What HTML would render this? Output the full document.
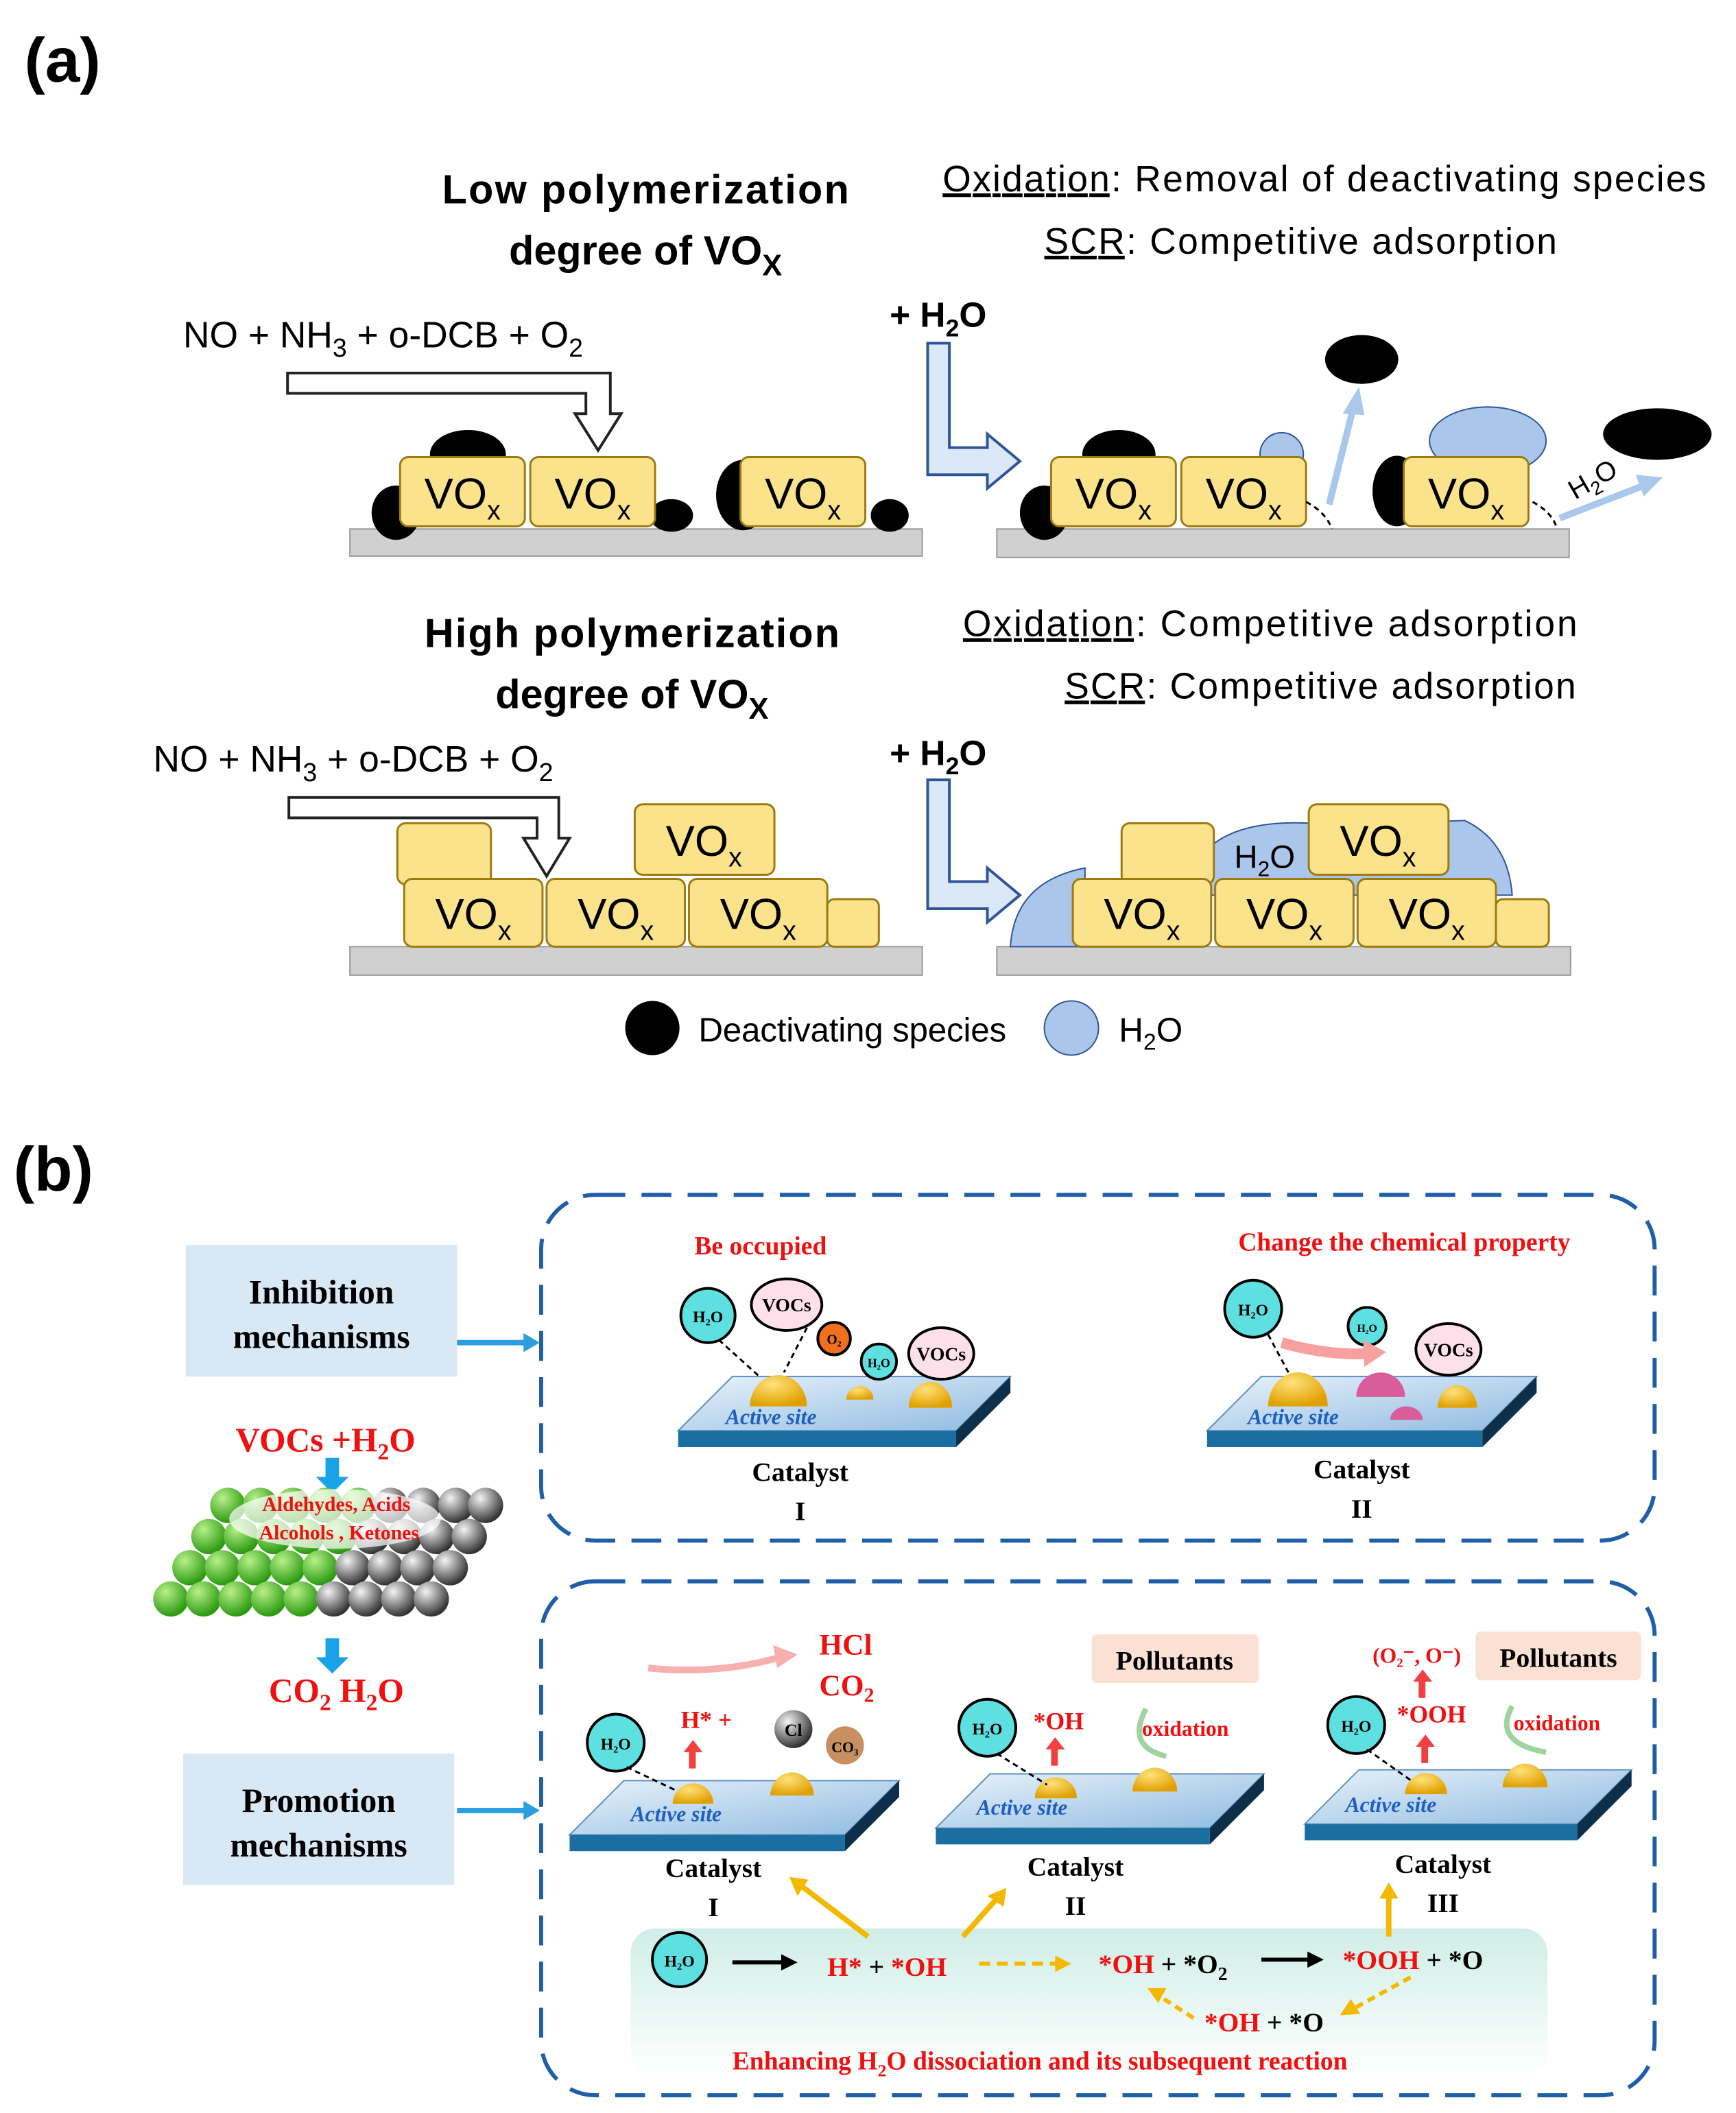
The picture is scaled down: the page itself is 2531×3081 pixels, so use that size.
<!DOCTYPE html>
<html><head><meta charset="utf-8"><style>
html,body{margin:0;padding:0;background:#fff;}
svg{display:block;}
.s{font-family:"Liberation Sans",sans-serif;}
.r{font-family:"Liberation Serif",serif;font-weight:bold;}
</style></head><body>
<svg width="2531" height="3081" viewBox="0 0 1280 1558" xmlns="http://www.w3.org/2000/svg">
<defs>
<linearGradient id="plate" x1="0" y1="0" x2="1" y2="1"><stop offset="0" stop-color="#e8f2fb"/><stop offset="1" stop-color="#8fbbe0"/></linearGradient>
<radialGradient id="gold" cx="0.4" cy="0.3" r="0.7"><stop offset="0" stop-color="#ffe27a"/><stop offset="1" stop-color="#e0a000"/></radialGradient>
<linearGradient id="green" x1="0" y1="0" x2="0" y2="1"><stop offset="0" stop-color="#cfeee6"/><stop offset="1" stop-color="#ffffff"/></linearGradient>
<radialGradient id="gs" cx="0.35" cy="0.3" r="0.7"><stop offset="0" stop-color="#b8f08a"/><stop offset="1" stop-color="#2a9a10"/></radialGradient>
<radialGradient id="ks" cx="0.35" cy="0.3" r="0.7"><stop offset="0" stop-color="#f4f4f4"/><stop offset="1" stop-color="#333"/></radialGradient>
<g id="ybox"><rect x="0" y="0" width="92" height="51" rx="6" fill="#fbe38c" stroke="#9c7a10" stroke-width="1.5"/></g>
<circle id="G" r="13" fill="url(#gs)"/>
<circle id="K" r="13" fill="url(#ks)"/>
</defs>

<!-- (a) -->
<text x="18" y="60" class="s" font-size="46" font-weight="bold">(a)</text>
<g class="s" text-anchor="middle" font-weight="bold" font-size="30">
<text x="476" y="150" textLength="300">Low polymerization</text>
<text x="476" y="195">degree of VO<tspan font-size="22" dy="8">X</tspan></text>
<text x="466" y="477" textLength="306">High polymerization</text>
<text x="466" y="522">degree of VO<tspan font-size="22" dy="8">X</tspan></text>
</g>
<g class="s" font-size="27">
<text x="695" y="141" textLength="563"><tspan text-decoration="underline">Oxidation</tspan>: Removal of deactivating species</text>
<text x="770" y="187" textLength="378"><tspan text-decoration="underline">SCR</tspan>: Competitive adsorption</text>
<text x="710" y="469" textLength="453"><tspan text-decoration="underline">Oxidation</tspan>: Competitive adsorption</text>
<text x="785" y="515" textLength="377"><tspan text-decoration="underline">SCR</tspan>: Competitive adsorption</text>
<text x="135" y="256">NO + NH<tspan font-size="19" dy="7">3</tspan><tspan dy="-7"> + o-DCB + O</tspan><tspan font-size="19" dy="7">2</tspan></text>
<text x="113" y="569">NO + NH<tspan font-size="19" dy="7">3</tspan><tspan dy="-7"> + o-DCB + O</tspan><tspan font-size="19" dy="7">2</tspan></text>
</g>
<g class="s" font-size="26" font-weight="bold">
<text x="656" y="241">+ H<tspan font-size="18" dy="7">2</tspan><tspan dy="-7">O</tspan></text>
<text x="656" y="564">+ H<tspan font-size="18" dy="7">2</tspan><tspan dy="-7">O</tspan></text>
</g>
<path d="M212,275 H450 V305 H458 L441,332 L424,305 H432 V290 H212 Z" fill="#fff" stroke="#222" stroke-width="2"/>
<path d="M213,588 H412 V618 H420 L403,646 L386,618 H396 V603 H213 Z" fill="#fff" stroke="#222" stroke-width="2"/>
<path d="M684,253 H700 V330 H728 V320 L752,340 L728,360 V350 H684 Z" fill="#dbe8f7" stroke="#2f5597" stroke-width="2"/>
<path d="M684,575 H700 V650 H728 V640 L752,660 L728,680 V670 H684 Z" fill="#dbe8f7" stroke="#2f5597" stroke-width="2"/>
<rect x="258" y="390" width="422" height="20" fill="#d0d0d0" stroke="#999"/>
<rect x="735" y="390" width="422" height="21" fill="#d0d0d0" stroke="#999"/>
<rect x="258" y="698" width="422" height="21" fill="#d0d0d0" stroke="#999"/>
<rect x="735" y="698" width="423" height="21" fill="#d0d0d0" stroke="#999"/>
<ellipse cx="345" cy="335" rx="28" ry="18"/>
<ellipse cx="292" cy="378" rx="18" ry="20"/>
<ellipse cx="495" cy="380" rx="16" ry="12"/>
<ellipse cx="548" cy="365" rx="20" ry="26"/>
<ellipse cx="656" cy="380" rx="14" ry="12"/>
<use href="#ybox" x="295" y="337"/><use href="#ybox" x="391" y="337"/><use href="#ybox" x="546" y="337"/>
<ellipse cx="825" cy="335" rx="27" ry="18"/>
<ellipse cx="770" cy="378" rx="18" ry="20"/>
<ellipse cx="1004" cy="265" rx="27" ry="18"/>
<ellipse cx="1222" cy="320" rx="40" ry="19"/>
<ellipse cx="945" cy="335" rx="16" ry="16" fill="#aac6ea" stroke="#2f5597"/>
<ellipse cx="1097" cy="325" rx="43" ry="25" fill="#aac6ea" stroke="#2f5597"/>
<ellipse cx="1030" cy="362" rx="18" ry="26"/>
<use href="#ybox" x="775" y="337"/><use href="#ybox" x="871" y="337"/><use href="#ybox" x="1035" y="337"/>
<path d="M963,370 Q978,378 982,390 M1130,370 Q1145,378 1148,390" fill="none" stroke="#000" stroke-dasharray="4,3" stroke-width="1.5"/>
<line x1="980" y1="372" x2="998" y2="300" stroke="#a9c8ec" stroke-width="5"/>
<polygon points="1002,285 990,305 1006,306" fill="#a9c8ec"/>
<line x1="1150" y1="382" x2="1212" y2="358" stroke="#a9c8ec" stroke-width="5"/>
<polygon points="1226,352 1206,350 1212,366" fill="#a9c8ec"/>
<text x="1155" y="365" class="s" font-size="20" transform="rotate(-30 1165 355)">H<tspan font-size="14" dy="5">2</tspan><tspan dy="-5">O</tspan></text>
<rect x="293" y="607" width="69" height="45" rx="6" fill="#fbe38c" stroke="#9c7a10" stroke-width="1.5"/>
<rect x="468" y="593" width="103" height="52" rx="6" fill="#fbe38c" stroke="#9c7a10" stroke-width="1.5"/>
<rect x="298" y="648" width="102" height="50" rx="6" fill="#fbe38c" stroke="#9c7a10" stroke-width="1.5"/>
<rect x="403" y="648" width="102" height="50" rx="6" fill="#fbe38c" stroke="#9c7a10" stroke-width="1.5"/>
<rect x="508" y="648" width="102" height="50" rx="6" fill="#fbe38c" stroke="#9c7a10" stroke-width="1.5"/>
<rect x="610" y="663" width="38" height="35" rx="5" fill="#fbe38c" stroke="#9c7a10" stroke-width="1.5"/>
<path d="M745,698 Q748,650 800,640 V698 Z" fill="#aac6ea" stroke="#2f5597"/>
<path d="M880,640 Q900,600 980,608 L1080,605 Q1112,620 1115,660 H880 Z" fill="#aac6ea" stroke="#2f5597"/>
<rect x="827" y="607" width="68" height="45" rx="6" fill="#fbe38c" stroke="#9c7a10" stroke-width="1.5"/>
<rect x="965" y="593" width="103" height="52" rx="6" fill="#fbe38c" stroke="#9c7a10" stroke-width="1.5"/>
<rect x="791" y="648" width="102" height="50" rx="6" fill="#fbe38c" stroke="#9c7a10" stroke-width="1.5"/>
<rect x="896" y="648" width="102" height="50" rx="6" fill="#fbe38c" stroke="#9c7a10" stroke-width="1.5"/>
<rect x="1001" y="648" width="102" height="50" rx="6" fill="#fbe38c" stroke="#9c7a10" stroke-width="1.5"/>
<rect x="1103" y="663" width="39" height="35" rx="5" fill="#fbe38c" stroke="#9c7a10" stroke-width="1.5"/>
<text x="910" y="640" class="s" font-size="24">H<tspan font-size="16" dy="6">2</tspan><tspan dy="-6">O</tspan></text>
<g class="s" font-size="32" text-anchor="middle">
<text x="341" y="375">VO<tspan font-size="20" dy="8">x</tspan></text>
<text x="437" y="375">VO<tspan font-size="20" dy="8">x</tspan></text>
<text x="592" y="375">VO<tspan font-size="20" dy="8">x</tspan></text>
<text x="821" y="375">VO<tspan font-size="20" dy="8">x</tspan></text>
<text x="917" y="375">VO<tspan font-size="20" dy="8">x</tspan></text>
<text x="1081" y="375">VO<tspan font-size="20" dy="8">x</tspan></text>
<text x="519" y="631">VO<tspan font-size="20" dy="8">x</tspan></text>
<text x="349" y="685">VO<tspan font-size="20" dy="8">x</tspan></text>
<text x="454" y="685">VO<tspan font-size="20" dy="8">x</tspan></text>
<text x="559" y="685">VO<tspan font-size="20" dy="8">x</tspan></text>
<text x="1016" y="631">VO<tspan font-size="20" dy="8">x</tspan></text>
<text x="842" y="685">VO<tspan font-size="20" dy="8">x</tspan></text>
<text x="947" y="685">VO<tspan font-size="20" dy="8">x</tspan></text>
<text x="1052" y="685">VO<tspan font-size="20" dy="8">x</tspan></text>
</g>
<circle cx="481" cy="758" r="20"/>
<text x="515" y="768" class="s" font-size="25" textLength="227">Deactivating species</text>
<circle cx="790" cy="758" r="20" fill="#aac6ea" stroke="#2f5597"/>
<text x="825" y="768" class="s" font-size="25">H<tspan font-size="17" dy="6">2</tspan><tspan dy="-6">O</tspan></text>

<!-- (b) -->
<text x="10" y="878" class="s" font-size="46" font-weight="bold">(b)</text>
<rect x="399" y="881" width="821" height="255" rx="40" fill="none" stroke="#1f5fa8" stroke-width="3" stroke-dasharray="22,12"/>
<rect x="399" y="1166" width="821" height="379" rx="40" fill="none" stroke="#1f5fa8" stroke-width="3" stroke-dasharray="22,12"/>
<rect x="137" y="918" width="200" height="97" fill="#d9e8f5"/>
<rect x="135" y="1293" width="200" height="97" fill="#d9e8f5"/>
<g class="r" font-size="25" text-anchor="middle">
<text x="237" y="961">Inhibition</text><text x="237" y="994">mechanisms</text>
<text x="235" y="1336">Promotion</text><text x="235" y="1369">mechanisms</text>
</g>
<line x1="337" y1="990" x2="388" y2="990" stroke="#2a9ee0" stroke-width="4"/><polygon points="398,990 386,983 386,997" fill="#2a9ee0"/>
<line x1="337" y1="1335" x2="388" y2="1335" stroke="#2a9ee0" stroke-width="4"/><polygon points="398,1335 386,1328 386,1342" fill="#2a9ee0"/>
<text x="240" y="1070" class="r" font-size="25" fill="#f01010" text-anchor="middle">VOCs +H<tspan font-size="17" dy="6">2</tspan><tspan dy="-6">O</tspan></text>
<path d="M240,1075 h10 v14 h7 l-12,12 l-12,-12 h7 z" fill="#1aa2e8"/>
<!-- sphere slab -->
<g>
<use href="#G" x="168" y="1110"/><use href="#G" x="192" y="1110"/><use href="#G" x="216" y="1110"/><use href="#G" x="240" y="1110"/><use href="#G" x="264" y="1110"/>
<use href="#K" x="288" y="1110"/><use href="#K" x="312" y="1110"/><use href="#K" x="336" y="1110"/><use href="#K" x="358" y="1110"/>
<use href="#G" x="154" y="1133"/><use href="#G" x="178" y="1133"/><use href="#G" x="202" y="1133"/><use href="#G" x="226" y="1133"/><use href="#G" x="250" y="1133"/>
<use href="#K" x="274" y="1133"/><use href="#K" x="298" y="1133"/><use href="#K" x="322" y="1133"/><use href="#K" x="346" y="1133"/>
<use href="#G" x="140" y="1156"/><use href="#G" x="164" y="1156"/><use href="#G" x="188" y="1156"/><use href="#G" x="212" y="1156"/><use href="#G" x="236" y="1156"/>
<use href="#K" x="260" y="1156"/><use href="#K" x="284" y="1156"/><use href="#K" x="308" y="1156"/><use href="#K" x="332" y="1156"/>
<use href="#G" x="126" y="1179"/><use href="#G" x="150" y="1179"/><use href="#G" x="174" y="1179"/><use href="#G" x="198" y="1179"/><use href="#G" x="222" y="1179"/>
<use href="#K" x="246" y="1179"/><use href="#K" x="270" y="1179"/><use href="#K" x="294" y="1179"/><use href="#K" x="318" y="1179"/>
</g>
<ellipse cx="247" cy="1120" rx="78" ry="22" fill="#fff" opacity="0.7"/>
<g class="r" font-size="15" fill="#f01010" text-anchor="middle">
<text x="248" y="1114">Aldehydes,  Acids</text><text x="250" y="1135">Alcohols  , Ketones</text>
</g>
<path d="M240,1208 h10 v14 h7 l-12,12 l-12,-12 h7 z" fill="#1aa2e8"/>
<text x="248" y="1255" class="r" font-size="25" fill="#f01010" text-anchor="middle">CO<tspan font-size="17" dy="6">2</tspan><tspan dy="-6"> H</tspan><tspan font-size="17" dy="6">2</tspan><tspan dy="-6">O</tspan></text>

<g>
<polygon points="500,1055 540,1015 745,1015 705,1055" fill="url(#plate)" stroke="#5f8fbf"/>
<rect x="500" y="1055" width="205" height="12" fill="#1a6fa0"/><polygon points="705,1055 745,1015 745,1027 705,1067" fill="#0d2f4a"/>
<polygon points="890,1055 930,1015 1133,1015 1093,1055" fill="url(#plate)" stroke="#5f8fbf"/>
<rect x="890" y="1055" width="203" height="12" fill="#1a6fa0"/><polygon points="1093,1055 1133,1015 1133,1027 1093,1067" fill="#0d2f4a"/>
<polygon points="420,1353 460,1313 663,1313 623,1353" fill="url(#plate)" stroke="#5f8fbf"/>
<rect x="420" y="1353" width="203" height="12" fill="#1a6fa0"/><polygon points="623,1353 663,1313 663,1325 623,1365" fill="#0d2f4a"/>
<polygon points="690,1348 730,1308 932,1308 892,1348" fill="url(#plate)" stroke="#5f8fbf"/>
<rect x="690" y="1348" width="202" height="12" fill="#1a6fa0"/><polygon points="892,1348 932,1308 932,1320 892,1360" fill="#0d2f4a"/>
<polygon points="962,1345 1002,1305 1203,1305 1163,1345" fill="url(#plate)" stroke="#5f8fbf"/>
<rect x="962" y="1345" width="201" height="12" fill="#1a6fa0"/><polygon points="1163,1345 1203,1305 1203,1317 1163,1357" fill="#0d2f4a"/>
</g>
<g class="r" font-size="16" fill="#1f5fbf" font-style="italic">
<text x="535" y="1050">Active site</text><text x="920" y="1050">Active site</text>
<text x="465" y="1343">Active site</text><text x="720" y="1338">Active site</text><text x="992" y="1336">Active site</text>
</g>
<g fill="url(#gold)">
<path d="M553,1037 a20,22 0 0 1 42,0 z"/><path d="M624,1032 a10,10 0 0 1 20,0 z"/><path d="M670,1038 a15,18 0 0 1 32,0 z"/>
<path d="M935,1037 a21,24 0 0 1 44,0 z"/><path d="M1060,1038 a14,16 0 0 1 29,0 z"/>
<path d="M496,1330 a14,14 0 0 1 30,0 z"/><path d="M568,1324 a15,16 0 0 1 32,0 z"/>
<path d="M763,1326 a15,15 0 0 1 31,0 z"/><path d="M835,1321 a16,17 0 0 1 33,0 z"/>
<path d="M1036,1323 a15,15 0 0 1 31,0 z"/><path d="M1108,1318 a16,17 0 0 1 33,0 z"/>
</g>
<path d="M1000,1030 a18,18 0 0 1 36,0 z" fill="#d85d9a"/><path d="M1025,1047 a12,10 0 0 1 24,0 z" fill="#d85d9a"/>
<g stroke="#000" stroke-width="2">
<circle cx="522" cy="970" r="20" fill="#5ee0e0"/><ellipse cx="580" cy="962" rx="26" ry="19" fill="#fde0ea"/><circle cx="615" cy="987" r="12" fill="#f07020"/><circle cx="648" cy="1004" r="13" fill="#5ee0e0"/><ellipse cx="694" cy="998" rx="24" ry="19" fill="#fde0ea"/>
<circle cx="924" cy="965" r="21" fill="#5ee0e0"/><circle cx="1008" cy="978" r="14" fill="#5ee0e0"/><ellipse cx="1068" cy="995" rx="24" ry="19" fill="#fde0ea"/>
<circle cx="454" cy="1285" r="21" fill="#5ee0e0"/><circle cx="728" cy="1274" r="21" fill="#5ee0e0"/><circle cx="1000" cy="1272" r="21" fill="#5ee0e0"/>
</g>
<circle cx="585" cy="1275" r="14" fill="url(#ks)"/><circle cx="623" cy="1287" r="14" fill="#c89060"/>
<g class="r" font-size="12" text-anchor="middle">
<text x="522" y="975">H₂O</text><text x="580" y="967" font-size="14">VOCs</text><text x="615" y="991" font-size="10">O₂</text><text x="648" y="1008" font-size="9">H₂O</text><text x="694" y="1003" font-size="14">VOCs</text>
<text x="924" y="970">H₂O</text><text x="1008" y="982" font-size="8">H₂O</text><text x="1068" y="1000" font-size="14">VOCs</text>
<text x="454" y="1290">H₂O</text><text x="728" y="1279">H₂O</text><text x="1000" y="1277">H₂O</text>
<text x="585" y="1280" font-size="13">Cl</text><text x="623" y="1292" font-size="11">CO₃</text>
</g>
<g stroke="#000" stroke-width="1.5" stroke-dasharray="4,3" fill="none">
<line x1="530" y1="988" x2="560" y2="1015"/><line x1="595" y1="979" x2="578" y2="1012"/><line x1="935" y1="984" x2="950" y2="1012"/>
<line x1="462" y1="1303" x2="498" y2="1320"/><line x1="735" y1="1293" x2="772" y2="1316"/><line x1="1008" y1="1290" x2="1042" y2="1314"/>
</g>
<path d="M945,990 Q980,1000 1010,998" stroke="#f7a0a0" stroke-width="8" fill="none"/><polygon points="1022,997 1005,988 1006,1008" fill="#f7a0a0"/>
<path d="M478,1230 Q530,1235 575,1222" stroke="#f7b0b0" stroke-width="5" fill="none"/><polygon points="588,1220 570,1213 573,1230" fill="#f7b0b0"/>
<path d="M845,1260 Q830,1288 860,1295" stroke="#9fd49f" stroke-width="4" fill="none"/>
<path d="M1115,1258 Q1100,1285 1140,1292" stroke="#9fd49f" stroke-width="4" fill="none"/>
<g fill="#f04040">
<path d="M508,1304 h5 v-12 h5 l-7,-9 l-7,9 h4z"/><path d="M775,1302 h5 v-12 h5 l-7,-9 l-7,9 h4z"/><path d="M1048,1300 h5 v-12 h5 l-7,-9 l-7,9 h4z"/><path d="M1046,1252 h5 v-12 h5 l-7,-9 l-7,9 h4z"/>
</g>
<g class="r" fill="#f01010" font-size="19">
<text x="512" y="925">Be occupied</text>
<text x="913" y="922">Change the chemical property</text>
<text x="604" y="1220" font-size="22">HCl</text>
<text x="604" y="1250" font-size="22">CO<tspan font-size="15" dy="5">2</tspan></text>
<text x="502" y="1274" font-size="18">H*  +</text>
<text x="762" y="1275" font-size="18">*OH</text>
<text x="1030" y="1270" font-size="18">*OOH</text>
<text x="1012" y="1226" font-size="16">(O₂⁻, O⁻)</text>
<text x="842" y="1280" font-size="16">oxidation</text>
<text x="1116" y="1276" font-size="16">oxidation</text>
</g>
<rect x="805" y="1205" width="123" height="36" rx="4" fill="#fbe0d4"/>
<rect x="1088" y="1203" width="122" height="36" rx="4" fill="#fbe0d4"/>
<g class="r" font-size="20" text-anchor="middle">
<text x="866" y="1231">Pollutants</text><text x="1149" y="1229">Pollutants</text>
<text x="590" y="1092">Catalyst</text><text x="590" y="1121">I</text>
<text x="1004" y="1090">Catalyst</text><text x="1004" y="1119">II</text>
<text x="526" y="1384">Catalyst</text><text x="526" y="1413">I</text>
<text x="793" y="1383">Catalyst</text><text x="793" y="1412">II</text>
<text x="1064" y="1381">Catalyst</text><text x="1064" y="1410">III</text>
</g>
<rect x="465" y="1422" width="676" height="110" rx="18" fill="url(#green)"/>
<circle cx="501" cy="1445" r="20" fill="#5ee0e0" stroke="#000" stroke-width="2"/>
<text x="501" y="1450" class="r" font-size="12" text-anchor="middle">H₂O</text>
<g stroke="#f5b800" stroke-width="4" fill="#f5b800">
<line x1="640" y1="1428" x2="590" y2="1390"/><polygon points="582,1384 596,1386 588,1398" stroke="none"/>
<line x1="710" y1="1428" x2="735" y2="1400"/><polygon points="742,1392 740,1406 728,1398" stroke="none"/>
<line x1="1024" y1="1428" x2="1024" y2="1398"/><polygon points="1024,1388 1031,1400 1017,1400" stroke="none"/>
</g>
<line x1="540" y1="1447" x2="578" y2="1447" stroke="#000" stroke-width="3"/><polygon points="588,1447 576,1441 576,1453"/>
<line x1="930" y1="1445" x2="965" y2="1445" stroke="#000" stroke-width="3"/><polygon points="976,1445 964,1439 964,1451"/>
<line x1="722" y1="1448" x2="780" y2="1448" stroke="#f5b800" stroke-width="3" stroke-dasharray="8,5"/><polygon points="790,1448 778,1442 778,1454" fill="#f5b800"/>
<line x1="1040" y1="1458" x2="1000" y2="1480" stroke="#f5b800" stroke-width="3" stroke-dasharray="6,4"/><polygon points="988,1486 996,1474 1003,1485" fill="#f5b800"/>
<line x1="880" y1="1488" x2="855" y2="1472" stroke="#f5b800" stroke-width="3" stroke-dasharray="6,4"/><polygon points="846,1466 860,1466 854,1477" fill="#f5b800"/>
<g class="r" font-size="20">
<text x="610" y="1457"><tspan fill="#f01010">H*</tspan> + <tspan fill="#f01010">*OH</tspan></text>
<text x="810" y="1455"><tspan fill="#f01010">*OH</tspan> + *O<tspan font-size="14" dy="5">2</tspan></text>
<text x="990" y="1452"><tspan fill="#f01010">*OOH</tspan> + *O</text>
<text x="888" y="1498"><tspan fill="#f01010">*OH</tspan> + *O</text>
<text x="540" y="1526" fill="#f01010" font-size="19">Enhancing H<tspan font-size="13" dy="5">2</tspan><tspan dy="-5">O dissociation and its subsequent reaction</tspan></text>
</g>
</svg>
</body></html>
